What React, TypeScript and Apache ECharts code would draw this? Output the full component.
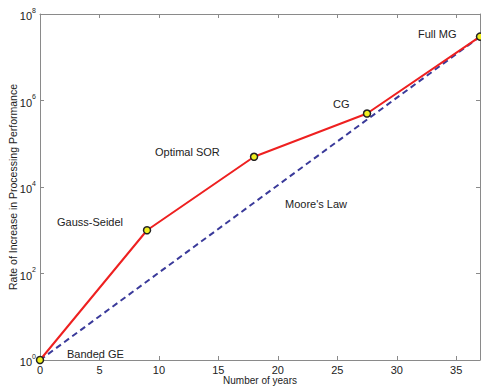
import React, { useEffect, useRef } from "react";
import * as echarts from "echarts";

const years = [0, 9, 18, 27.5, 37];
const performance = [1, 1000, 50000, 500000, 30000000];
const mooreYears = [0, 37];
const mooreValues = [1, 30000000];
const methodNames = ["Banded GE", "Gauss-Seidel", "Optimal SOR", "CG", "Full MG"];

export default function App() {
  const ref = useRef<HTMLDivElement>(null);
  useEffect(() => {
    const chart = echarts.init(ref.current!, null, { renderer: "svg" });
    const font = "Liberation Sans, Arial, sans-serif";
    const axisColor = "#8a8a8a";
    const yLabel = (v: number) => {
      const e = Math.round(Math.log10(v));
      return "{b|10}{s|" + e + "}";
    };
    const rich = {
      b: { fontSize: 11, fontFamily: font, color: "#222", verticalAlign: "bottom" as const, padding: [4, 0, 0, 0] },
      s: { fontSize: 7, fontFamily: font, color: "#222", verticalAlign: "top" as const, padding: [0, 0, 6, 0] },
    };
    const option: any = {
      animation: false,
      grid: { left: 40, right: 1, top: 14, bottom: 27, outerBoundsMode: "none", containLabel: false },
      xAxis: [
        {
          type: "value",
          min: 0,
          max: 37,
          interval: 5,
          axisLine: { onZero: false, lineStyle: { color: axisColor, width: 1 } },
          axisTick: { inside: true, length: 4, lineStyle: { color: axisColor } },
          axisLabel: { fontFamily: font, fontSize: 11, color: "#222", margin: 4, showMaxLabel: false },
          splitLine: { show: false },
          name: "Number of years",
          nameLocation: "middle",
          nameGap: 15,
          nameMoveOverlap: false,
          nameTextStyle: { fontFamily: font, fontSize: 10, color: "#222" },
        },
        {
          type: "value",
          position: "top",
          min: 0,
          max: 37,
          interval: 5,
          axisLine: { onZero: false, lineStyle: { color: axisColor, width: 1 } },
          axisTick: { inside: true, length: 4, lineStyle: { color: axisColor } },
          axisLabel: { show: false },
          splitLine: { show: false },
        },
      ],
      yAxis: [
        {
          type: "log",
          logBase: 10,
          min: 1,
          max: 1e8,
          interval: 2,
          axisLine: { onZero: false, lineStyle: { color: axisColor, width: 1 } },
          axisTick: { inside: true, length: 4, lineStyle: { color: axisColor } },
          axisLabel: { formatter: yLabel, rich, margin: 4 },
          splitLine: { show: false },
          minorTick: { show: false },
          name: "Rate of Increase in Processing Performance",
          nameLocation: "middle",
          nameGap: 22,
          nameRotate: 90,
          nameMoveOverlap: false,
          nameTextStyle: { fontFamily: font, fontSize: 10.5, color: "#222" },
        },
        {
          type: "log",
          logBase: 10,
          position: "right",
          min: 1,
          max: 1e8,
          interval: 2,
          axisLine: { onZero: false, lineStyle: { color: axisColor, width: 1 } },
          axisTick: { inside: true, length: 4, lineStyle: { color: axisColor } },
          axisLabel: { show: false },
          splitLine: { show: false },
        },
      ],
      series: [
        {
          type: "line",
          name: "Moore's Law",
          data: mooreYears.map((x, i) => [x, mooreValues[i]]),
          showSymbol: false,
          lineStyle: { color: "#3a3a9a", width: 2, type: [6, 4] },
          z: 2,
        },
        {
          type: "line",
          name: "Methods",
          data: years.map((x, i) => [x, performance[i], methodNames[i]]),
          symbol: "circle",
          symbolSize: 7,
          itemStyle: { color: "#f0f020", borderColor: "#222", borderWidth: 1.5 },
          lineStyle: { color: "#ee2020", width: 2 },
          z: 3,
        },
      ],
      graphic: [
        { type: "text", left: 67, top: 348, style: { text: "Banded GE", font: "11px " + font, fill: "#222" } },
        { type: "text", left: 57, top: 216, style: { text: "Gauss-Seidel", font: "11px " + font, fill: "#222" } },
        { type: "text", left: 155, top: 146, style: { text: "Optimal SOR", font: "11px " + font, fill: "#222" } },
        { type: "text", left: 333, top: 98, style: { text: "CG", font: "11px " + font, fill: "#222" } },
        { type: "text", left: 418, top: 28, style: { text: "Full MG", font: "11px " + font, fill: "#222" } },
        { type: "text", left: 285, top: 198, style: { text: "Moore's Law", font: "11px " + font, fill: "#222" } },
      ],
    };
    chart.setOption(option);
    return () => chart.dispose();
  }, []);
  return <div ref={ref} style={{ width: 481, height: 387, position: "absolute", left: 0, top: 0, background: "#fff" }} />;
}
